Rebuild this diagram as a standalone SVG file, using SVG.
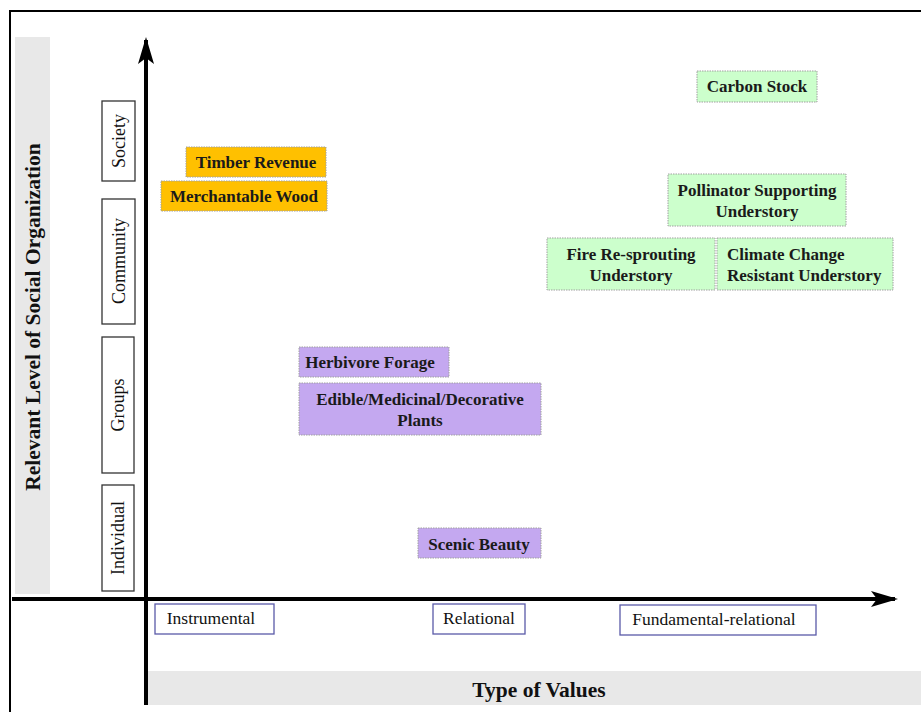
<svg xmlns="http://www.w3.org/2000/svg" width="921" height="712" viewBox="0 0 921 712">
<defs>
<style>
.node rect{stroke:#a0a0a0;stroke-width:1;stroke-dasharray:1.5 1}
.orange rect{fill:#FFC000}
.green rect{fill:#CCFFCC}
.purple rect{fill:#C4A8F0}
.node text{font-family:"Liberation Serif",serif;font-weight:bold;font-size:17px;fill:#1a1a1a;text-anchor:middle}
.lvl rect{fill:#fff;stroke:#333;stroke-width:1.3}
.lvl text{font-family:"Liberation Serif",serif;font-size:18px;fill:#111;text-anchor:middle}
.val rect{fill:#fff;stroke:#5a5aa8;stroke-width:1.3}
.val text{font-family:"Liberation Serif",serif;font-size:17.5px;fill:#111;text-anchor:middle}
.axislbl{font-family:"Liberation Serif",serif;font-size:21.5px;fill:#111;text-anchor:middle;font-weight:bold}
</style>
</defs>
<rect x="0" y="0" width="921" height="712" fill="#fff"/>
<rect x="10" y="11" width="920" height="710" fill="none" stroke="#000" stroke-width="2"/>
<rect x="15" y="37" width="35" height="557" fill="#e8e8e8"/>
<rect x="148" y="671" width="773" height="34" fill="#e8e8e8"/>
<text class="axislbl" transform="translate(40,317) rotate(-90)">Relevant Level of Social Organization</text>
<text class="axislbl" x="539" y="697">Type of Values</text>

<g id="connectors">
<line x1="146" y1="705" x2="146" y2="40" stroke="#000" stroke-width="4"/>
<path d="M146,37 L154,64 L146,58 L138,64 z" fill="#000"/>
<line x1="12" y1="599" x2="895" y2="599" stroke="#000" stroke-width="4"/>
<path d="M898,599 L871,591 L877,599 L871,607 z" fill="#000"/>
</g>

<g id="lvl-society" class="lvl"><rect x="102" y="101" width="33" height="80"/><text transform="translate(125,141) rotate(-90)">Society</text></g>
<g id="lvl-community" class="lvl"><rect x="102" y="199" width="33" height="125"/><text transform="translate(125,261) rotate(-90)">Community</text></g>
<g id="lvl-groups" class="lvl"><rect x="102" y="337" width="32" height="136"/><text transform="translate(124,405) rotate(-90)">Groups</text></g>
<g id="lvl-individual" class="lvl"><rect x="102" y="485" width="32" height="106"/><text transform="translate(124,538) rotate(-90)">Individual</text></g>

<g id="val-instrumental" class="val"><rect x="155" y="604" width="119" height="30"/><text x="211" y="624">Instrumental</text></g>
<g id="val-relational" class="val"><rect x="433" y="604" width="92" height="30"/><text x="479" y="624">Relational</text></g>
<g id="val-fundamental" class="val"><rect x="620" y="605" width="196" height="30"/><text x="714" y="625">Fundamental-relational</text></g>

<g id="n-timber" class="node orange"><rect x="186" y="147" width="140" height="30"/><text x="256" y="168">Timber Revenue</text></g>
<g id="n-merch" class="node orange"><rect x="161" y="181" width="166" height="30"/><text x="244" y="202">Merchantable Wood</text></g>
<g id="n-carbon" class="node green"><rect x="697" y="71" width="120" height="31"/><text x="757" y="92">Carbon Stock</text></g>
<g id="n-pollinator" class="node green"><rect x="668" y="174" width="178" height="52"/><text x="757" y="196">Pollinator Supporting</text><text x="757" y="217">Understory</text></g>
<g id="n-fire" class="node green"><rect x="547" y="238" width="168" height="52"/><text x="631" y="260">Fire Re-sprouting</text><text x="631" y="281">Understory</text></g>
<g id="n-climate" class="node green"><rect x="717" y="238" width="176" height="52"/><text x="727" y="260" style="text-anchor:start">Climate Change</text><text x="727" y="281" style="text-anchor:start">Resistant Understory</text></g>
<g id="n-herbivore" class="node purple"><rect x="299" y="347" width="150" height="30"/><text x="370" y="368">Herbivore Forage</text></g>
<g id="n-edible" class="node purple"><rect x="299" y="383" width="242" height="52"/><text x="420" y="405">Edible/Medicinal/Decorative</text><text x="420" y="426">Plants</text></g>
<g id="n-scenic" class="node purple"><rect x="418" y="528" width="123" height="30"/><text x="479" y="550">Scenic Beauty</text></g>
</svg>
